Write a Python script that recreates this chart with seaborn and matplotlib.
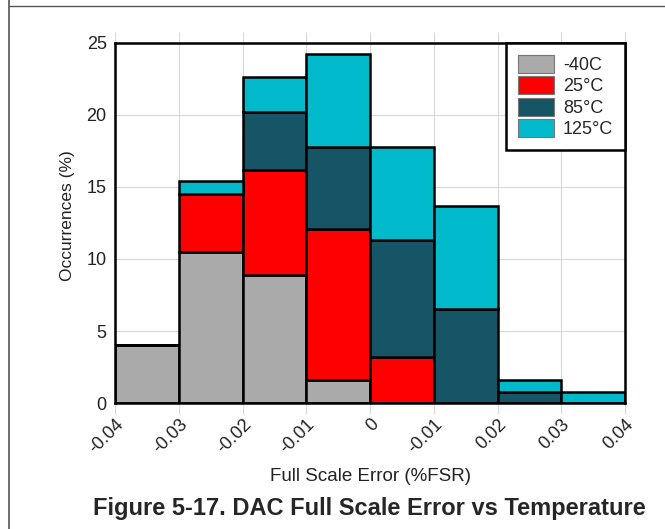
import numpy as np
import pandas as pd
import seaborn as sns
import matplotlib.pyplot as plt
from matplotlib.patches import Patch
from matplotlib.lines import Line2D

# bin edges of the histogram (%FSR)
bin_edges = [-0.04, -0.03, -0.02, -0.01, 0.0, 0.01, 0.02, 0.03, 0.04]
tick_labels = ["-0.04", "-0.03", "-0.02", "-0.01", "0", "-0.01", "0.02", "0.03", "0.04"]

temps = ["-40C", "25°C", "85°C", "125°C"]
colors = ["#aaaaaa", "#ff0000", "#155566", "#00bacc"]

# occurrences (%) per bin, one list per temperature
occ_m40 = [4.0, 10.5, 8.9, 1.6, 0.0, 0.0, 0.0, 0.0]
occ_25 = [0.0, 4.0, 7.3, 10.5, 3.2, 0.0, 0.0, 0.0]
occ_85 = [0.0, 0.0, 4.0, 5.7, 8.1, 6.5, 0.8, 0.0]
occ_125 = [0.0, 0.9, 2.4, 6.4, 6.5, 7.2, 0.8, 0.8]

centers = [(a + b) / 2 for a, b in zip(bin_edges[:-1], bin_edges[1:])]
rows = []
for t, vals in zip(temps, [occ_m40, occ_25, occ_85, occ_125]):
    for c, v in zip(centers, vals):
        rows.append({"err": c, "pct": v, "temp": t})
df = pd.DataFrame(rows)

sns.set_style("white")
plt.rcParams["font.family"] = ["Liberation Sans", "DejaVu Sans"]

fig = plt.figure(figsize=(6.65, 5.29), dpi=100)
ax = fig.add_axes([0.173, 0.238, 0.767, 0.681])

# seaborn stacks the last hue level at the bottom, so reverse the order
sns.histplot(data=df, x="err", weights="pct", hue="temp",
             hue_order=temps[::-1], palette=dict(zip(temps, colors)),
             multiple="stack", bins=bin_edges, alpha=1,
             edgecolor="black", linewidth=1.8, legend=False, ax=ax)

ax.set_xlim(-0.04, 0.04)
ax.set_ylim(0, 25)
ax.set_xticks(bin_edges)
ax.set_xticklabels(tick_labels, rotation=45, ha="right", rotation_mode="anchor",
                   fontsize=13, color="#222222")
ax.set_yticks([0, 5, 10, 15, 20, 25])
ax.set_yticklabels(["0", "5", "10", "15", "20", "25"], fontsize=13, color="#222222")
ax.tick_params(axis="x", which="both", direction="out", length=8, width=0.8,
               color="#d8d8d8", top=True, bottom=True, pad=1)
ax.tick_params(axis="y", length=0, pad=6)
ax.grid(True, color="#d8d8d8", linewidth=0.8)
ax.set_axisbelow(True)
for s in ax.spines.values():
    s.set_visible(True)
    s.set_color("black")
    s.set_linewidth(1.8)
    s.set_zorder(5)

ax.set_xlabel("Full Scale Error (%FSR)", fontsize=13.5, color="#222222", labelpad=8)
ax.set_ylabel("Occurrences (%)", fontsize=12.5, color="#222222")
ax.yaxis.set_label_coords(-0.078, 0.52)

handles = [Patch(facecolor=c, edgecolor="#777777", linewidth=0.8) for c in colors]
leg = ax.legend(handles, temps, loc="upper right", borderaxespad=0, fontsize=13,
                frameon=True, fancybox=False, framealpha=1, edgecolor="black",
                handlelength=2.0, handleheight=1.15, labelspacing=0.14,
                handletextpad=0.5, borderpad=0.65)
leg.get_frame().set_linewidth(1.8)
leg.set_zorder(10)

fig.text(0.555, 0.038, "Figure 5-17. DAC Full Scale Error vs Temperature",
         ha="center", va="center", fontsize=17, fontweight="bold")

# page border lines
fig.add_artist(Line2D([0.0135, 1], [0.989, 0.989], color="#555555", linewidth=1))
fig.add_artist(Line2D([0.0135, 0.0135], [0, 1], color="#555555", linewidth=1.2))

fig.savefig("out.png", dpi=100)
